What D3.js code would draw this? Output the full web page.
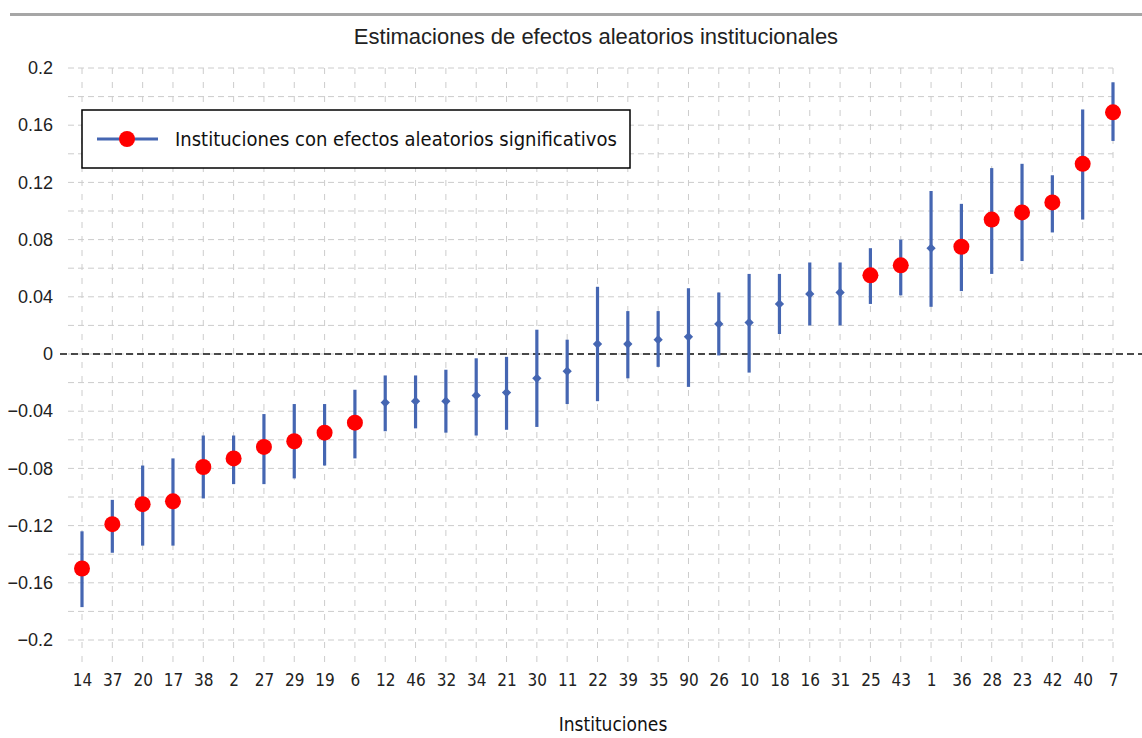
<!DOCTYPE html>
<html>
<head>
<meta charset="utf-8">
<script src="https://cdn.jsdelivr.net/npm/d3@7"></script>
<style>
  html, body { margin: 0; padding: 0; background: #ffffff; }
  svg { display: block; }
  .narrow { font-family: "Liberation Sans Narrow", "DejaVu Sans Condensed", "Liberation Sans", sans-serif; font-stretch: condensed; }
  .sans { font-family: "Liberation Sans", Arial, sans-serif; }
</style>
</head>
<body>
<svg id="chart" width="1142" height="738"></svg>
<script>
// Institutions, ordered by estimated random effect
const categories = ["14","37","20","17","38","2","27","29","19","6","12","46","32","34","21","30","11","22","39","35","90","26","10","18","16","31","25","43","1","36","28","23","42","40","7"];
// Point estimates of the institutional random effects
const estimates = [-0.150,-0.119,-0.105,-0.103,-0.079,-0.073,-0.065,-0.061,-0.055,-0.048,-0.034,-0.033,-0.033,-0.029,-0.027,-0.017,-0.012,0.007,0.007,0.010,0.012,0.021,0.022,0.035,0.042,0.043,0.055,0.062,0.074,0.075,0.094,0.099,0.106,0.133,0.169];
// Interval bounds
const lower = [-0.177,-0.139,-0.134,-0.134,-0.101,-0.091,-0.091,-0.087,-0.078,-0.073,-0.054,-0.052,-0.055,-0.057,-0.053,-0.051,-0.035,-0.033,-0.017,-0.009,-0.023,-0.001,-0.013,0.014,0.020,0.020,0.035,0.041,0.033,0.044,0.056,0.065,0.085,0.094,0.149];
const upper = [-0.124,-0.102,-0.078,-0.073,-0.057,-0.057,-0.042,-0.035,-0.035,-0.025,-0.015,-0.015,-0.011,-0.003,-0.002,0.017,0.010,0.047,0.030,0.030,0.046,0.043,0.056,0.056,0.064,0.064,0.074,0.080,0.114,0.105,0.130,0.133,0.125,0.171,0.190];
// 1 = significant institution (highlighted marker)
const significant = [1,1,1,1,1,1,1,1,1,1,0,0,0,0,0,0,0,0,0,0,0,0,0,0,0,0,1,1,0,1,1,1,1,1,1];
// Axis tick values
const yTicks = [0.2,0.16,0.12,0.08,0.04,0,-0.04,-0.08,-0.12,-0.16,-0.2];
const yGrid = d3.range(-0.2, 0.2001, 0.02);

const title = "Estimaciones de efectos aleatorios institucionales";
const xTitle = "Instituciones";
const legendLabel = "Instituciones con efectos aleatorios significativos";

const blue = "#4566b2";
const red = "#ff0000";

const svg = d3.select("#chart");
const rows = categories.map((c, i) => ({ c, est: estimates[i], lo: lower[i], hi: upper[i], sig: significant[i] === 1 }));

const x = d3.scalePoint().domain(categories).range([82, 1113]);
const y = d3.scaleLinear().domain([-0.2, 0.2]).range([640, 68]);

// window strip at the top
svg.append("rect").attr("x", 10).attr("y", 13).attr("width", 1132).attr("height", 3).attr("fill", "#a6a6a6");

// grid
const grid = svg.append("g");
grid.selectAll("line.h").data(yGrid).join("line")
  .attr("x1", 68).attr("x2", 1113)
  .attr("y1", d => y(d)).attr("y2", d => y(d))
  .attr("stroke", "#cccccc").attr("stroke-width", 1).attr("stroke-dasharray", "6,4");
grid.selectAll("line.v").data(categories).join("line")
  .attr("x1", d => x(d)).attr("x2", d => x(d))
  .attr("y1", 68).attr("y2", 662)
  .attr("stroke", "#cccccc").attr("stroke-width", 1).attr("stroke-dasharray", "6,8");

// zero reference line
svg.append("line")
  .attr("x1", 60).attr("x2", 1142).attr("y1", y(0)).attr("y2", y(0))
  .attr("stroke", "#111").attr("stroke-width", 1.6).attr("stroke-dasharray", "7,4");

// y axis labels
const yAxis = d3.axisLeft(y).tickValues(yTicks).tickSize(0).tickPadding(0)
  .tickFormat(d => d3.format("")(+d.toFixed(2)));
svg.append("g").attr("transform", "translate(53,0)").call(yAxis)
  .call(g => g.select(".domain").remove())
  .call(g => g.selectAll("text").attr("class", "sans").attr("font-size", 18).attr("fill", "#222"));

// x axis labels
const xAxis = d3.axisBottom(x).tickSize(0).tickPadding(0);
svg.append("g").attr("transform", "translate(0,674)").call(xAxis)
  .call(g => g.select(".domain").remove())
  .call(g => g.selectAll("text").attr("class", "narrow").attr("font-size", 17).attr("fill", "#222"));

// intervals
svg.append("g").selectAll("line").data(rows).join("line")
  .attr("x1", d => x(d.c)).attr("x2", d => x(d.c))
  .attr("y1", d => y(d.hi)).attr("y2", d => y(d.lo))
  .attr("stroke", blue).attr("stroke-width", 3.2);

// non-significant estimates: small diamonds
svg.append("g").selectAll("path").data(rows.filter(d => !d.sig)).join("path")
  .attr("transform", d => `translate(${x(d.c)},${y(d.est)})`)
  .attr("d", d3.symbol(d3.symbolDiamond2, 55)())
  .attr("fill", blue);

// significant estimates: red markers
svg.append("g").selectAll("circle").data(rows.filter(d => d.sig)).join("circle")
  .attr("cx", d => x(d.c)).attr("cy", d => y(d.est)).attr("r", 8)
  .attr("fill", red);

// title
svg.append("text").attr("class", "sans").attr("x", 596).attr("y", 44)
  .attr("text-anchor", "middle").attr("font-size", 22).attr("fill", "#222").text(title);

// x axis title
svg.append("text").attr("class", "narrow").attr("x", 613).attr("y", 731)
  .attr("text-anchor", "middle").attr("font-size", 19).attr("fill", "#111").text(xTitle);

// legend
const lg = svg.append("g");
lg.append("rect").attr("x", 82).attr("y", 110).attr("width", 548).attr("height", 58)
  .attr("fill", "#fff").attr("stroke", "#000").attr("stroke-width", 1.5);
lg.append("line").attr("x1", 97).attr("x2", 158).attr("y1", 139).attr("y2", 139)
  .attr("stroke", blue).attr("stroke-width", 3);
lg.append("circle").attr("cx", 127).attr("cy", 139).attr("r", 8).attr("fill", red);
lg.append("text").attr("class", "narrow").attr("x", 175).attr("y", 146)
  .attr("font-size", 20).attr("fill", "#111").text(legendLabel);
</script>
</body>
</html>
